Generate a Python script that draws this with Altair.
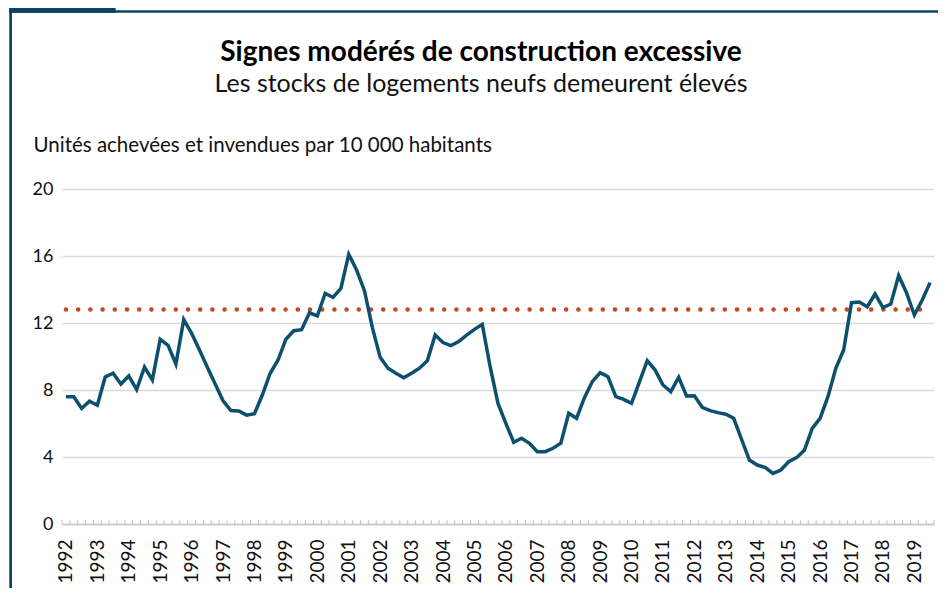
import altair as alt
import pandas as pd

# Quarterly series, 1992 T1 to 2019 T3
first_year = 1992
values = [
    7.6, 7.6, 6.9, 7.33, 7.09, 8.78, 9.0, 8.36, 8.84, 8.02,
    9.37, 8.6, 11.03, 10.67, 9.55, 12.2, 11.38, 10.39, 9.36, 8.36,
    7.36, 6.77, 6.75, 6.5, 6.59, 7.7, 9.0, 9.79, 11.03, 11.54,
    11.6, 12.61, 12.42, 13.77, 13.53, 14.07, 16.1, 15.16, 13.93, 11.74,
    9.95, 9.3, 9.0, 8.73, 9.0, 9.3, 9.75, 11.28, 10.83, 10.65,
    10.89, 11.28, 11.62, 11.92, 9.39, 7.2, 6.01, 4.88, 5.12, 4.82,
    4.32, 4.32, 4.52, 4.82, 6.61, 6.31, 7.54, 8.5, 9.03, 8.79,
    7.6, 7.44, 7.2, 8.48, 9.75, 9.19, 8.3, 7.9, 8.76, 7.64,
    7.66, 6.97, 6.77, 6.65, 6.55, 6.31, 5.06, 3.82, 3.52, 3.38,
    3.02, 3.22, 3.72, 3.96, 4.4, 5.71, 6.31, 7.6, 9.29, 10.39,
    13.21, 13.25, 12.97, 13.73, 12.92, 13.13, 14.83, 13.81, 12.48, 13.37,
    14.41,
]
threshold = 12.8
y_ticks = [0, 4, 8, 12, 16, 20]

title_text = "Signes modérés de construction excessive"
subtitle_text = "Les stocks de logements neufs demeurent élevés"
y_title = "Unités achevées et invendues par 10 000 habitants"

FONT = "Lato"
LINE_COLOR = "#0c506e"
FRAME_COLOR = "#0d4266"
DOT_COLOR = "#be4b28"
TEXT_COLOR = "#111111"

n = len(values)
quarters = list(range(n))
df = pd.DataFrame({
    "q": quarters,
    "value": values,
    "periode": [f"{first_year + i // 4} T{i % 4 + 1}" for i in quarters],
})
ticks_df = pd.DataFrame({"edge": [i - 0.5 for i in range(n + 1)], "base": 0})
level_df = pd.DataFrame({"start": [0], "end": [n - 1], "level": [threshold]})
one_row = alt.Data(values=[{}])

xscale = alt.Scale(domain=[-0.5, n - 0.5], nice=False, zero=False)
yscale = alt.Scale(domain=[0, 20], nice=False, zero=True)

W, H = 872, 335

line = alt.Chart(df).mark_line(color=LINE_COLOR, strokeWidth=3.5).encode(
    x=alt.X(
        "q:Q",
        scale=xscale,
        axis=alt.Axis(
            values=[4 * k for k in range((n + 3) // 4)],
            labelExpr=f"'' + ({first_year} + datum.value / 4)",
            labelAngle=-90,
            labelPadding=15,
            labelFontSize=19,
            labelFont=FONT,
            labelColor=TEXT_COLOR,
            labelOverlap=False,
            labelFlush=False,
            labelBound=False,
            ticks=False,
            grid=False,
            domain=True,
            domainColor="#c4c4c4",
            domainWidth=1.5,
            title=None,
        ),
    ),
    y=alt.Y(
        "value:Q",
        scale=yscale,
        axis=alt.Axis(
            values=y_ticks,
            grid=True,
            gridColor="#d9d9d9",
            gridWidth=1.5,
            domain=False,
            ticks=False,
            labelFontSize=18,
            labelFont=FONT,
            labelColor=TEXT_COLOR,
            labelPadding=9,
            title=y_title,
            titleAngle=0,
            titleX=-29,
            titleY=-38,
            titleAlign="left",
            titleBaseline="alphabetic",
            titleFont=FONT,
            titleFontSize=20.5,
            titleFontWeight="normal",
            titleColor=TEXT_COLOR,
        ),
    ),
    tooltip=["periode:N", "value:Q"],
)

level = alt.Chart(level_df).mark_rule(
    color=DOT_COLOR, strokeWidth=4.5, strokeDash=[0.1, 12.1], strokeCap="round"
).encode(
    x=alt.X("start:Q", scale=xscale, axis=None),
    x2="end:Q",
    y=alt.Y("level:Q", scale=yscale, axis=None),
)

ticks = alt.Chart(ticks_df).mark_rule(color="#c4c4c4", strokeWidth=1).encode(
    x=alt.X("edge:Q", scale=xscale, axis=None),
    y=alt.Y("base:Q", scale=yscale, axis=None),
    y2=alt.value(H - 4),
)

# decorative frame (tab, top rule, left rule)
tab = alt.Chart(one_row).mark_rect(color=FRAME_COLOR).encode(
    x=alt.value(-52.7), x2=alt.value(53.7), y=alt.value(-200), y2=alt.value(-176.3)
)
top_rule = alt.Chart(one_row).mark_rect(color=FRAME_COLOR).encode(
    x=alt.value(-52.7), x2=alt.value(900), y=alt.value(-178.8), y2=alt.value(-176.3)
)
left_rule = alt.Chart(one_row).mark_rect(color=FRAME_COLOR).encode(
    x=alt.value(-52.7), x2=alt.value(-50), y=alt.value(-200), y2=alt.value(420)
)

# chart title and subtitle as text marks
title = alt.Chart(alt.Data(values=[{"t": title_text}])).mark_text(
    font=FONT, fontSize=28, fontWeight="bold", color="#000000",
    align="center", baseline="alphabetic",
).encode(text="t:N", x=alt.value(419), y=alt.value(-128))
subtitle = alt.Chart(alt.Data(values=[{"t": subtitle_text}])).mark_text(
    font=FONT, fontSize=25, color=TEXT_COLOR,
    align="center", baseline="alphabetic",
).encode(text="t:N", x=alt.value(419), y=alt.value(-97))

chart = alt.layer(
    tab, top_rule, left_rule, ticks, level, line, title, subtitle
).resolve_axis(x="independent", y="independent").properties(
    width=W,
    height=H,
    background="white",
    autosize=alt.AutoSizeParams(type="none"),
    padding={"left": 54, "top": 181, "right": 4, "bottom": 64},
).configure_view(strokeWidth=0).configure_axisX(labelOverlap=False)

chart.save("out.html", embed_options={"renderer": "svg", "actions": False})
